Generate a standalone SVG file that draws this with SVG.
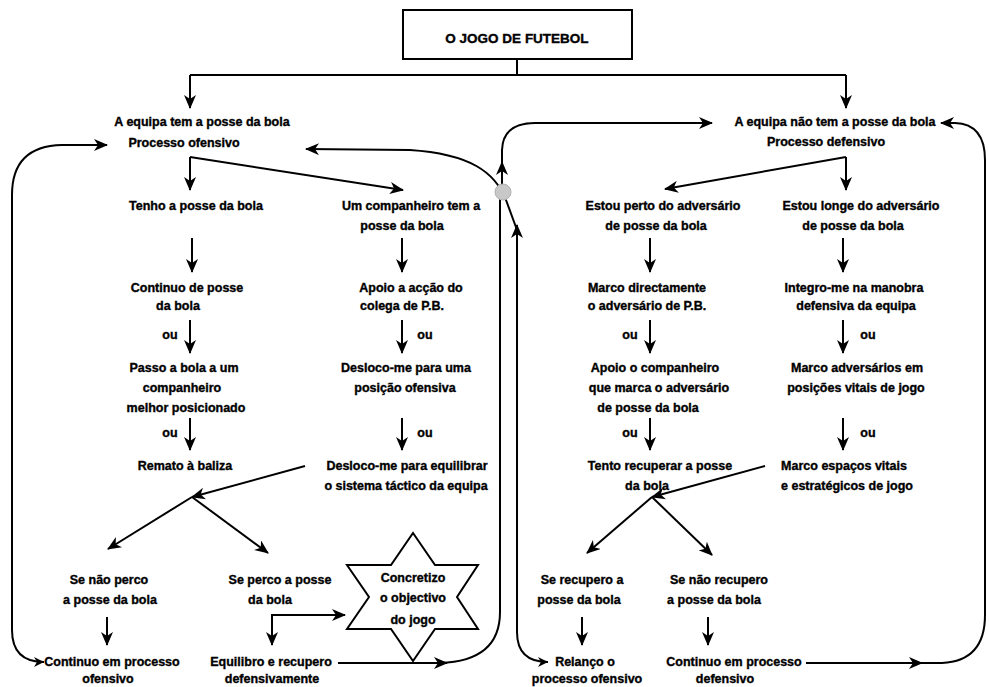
<svg xmlns="http://www.w3.org/2000/svg" width="989" height="687" viewBox="0 0 989 687">
<style>
text{font-family:"Liberation Sans",Arial,sans-serif;font-weight:bold;font-size:12.5px;fill:#000;stroke:#000;stroke-width:0.35;text-anchor:middle}
.ln{stroke:#000;stroke-width:2;fill:none}
.a{marker-end:url(#ah)}
</style>
<defs>
<marker id="ah" viewBox="0 0 14 12" refX="13" refY="6" markerWidth="14" markerHeight="12" orient="auto" markerUnits="userSpaceOnUse">
<path d="M0,0 L14,6 L0,12 L4,6 z" fill="#000"/>
</marker>
<marker id="tl" viewBox="0 0 10 10" refX="0" refY="5" markerWidth="10" markerHeight="10" orient="auto" markerUnits="userSpaceOnUse">
<path d="M10,0 L0,5 L10,10 L7,5 z" fill="#000"/>
</marker>
</defs>
<rect width="989" height="687" fill="#fff"/>

<g id="title">
<rect x="403" y="10" width="229" height="49" fill="#fff" stroke="#000" stroke-width="2"/>
<text x="517" y="43" style="font-size:13.5px">O JOGO DE FUTEBOL</text>
</g>

<g id="connectors">
<path class="ln" d="M517,59 V75 M190,75 H846"/>
<path class="ln a" d="M190,75 V108"/>
<path class="ln a" d="M846,75 V108"/>
<path class="ln a" d="M190,157 V190"/>
<path class="ln a" d="M190,157 L403,190"/>
<path class="ln a" d="M192,238 V272"/>
<path class="ln a" d="M190,320 V353"/>
<path class="ln a" d="M190,418 V450"/>
<path class="ln a" d="M402,238 V272"/>
<path class="ln a" d="M402,320 V353"/>
<path class="ln a" d="M402,418 V450"/>
<path class="ln a" d="M305,466 L192,497"/>
<path class="ln a" d="M192,497 L108,549"/>
<path class="ln a" d="M192,497 L268,553"/>
<path class="ln a" d="M107,617 V645"/>
<path class="ln a" d="M272,617 V645"/>
<path class="ln a" d="M272,640 V615 H345"/>
<path class="ln a" d="M846,157 V190"/>
<path class="ln a" d="M846,157 L665,189"/>
<path class="ln a" d="M650,238 V272"/>
<path class="ln a" d="M650,320 V353"/>
<path class="ln a" d="M650,418 V450"/>
<path class="ln a" d="M843,238 V272"/>
<path class="ln a" d="M843,320 V353"/>
<path class="ln a" d="M843,418 V450"/>
<path class="ln a" d="M765,466 L652,497"/>
<path class="ln a" d="M652,497 L587,553"/>
<path class="ln a" d="M652,497 L712,555"/>
<path class="ln a" d="M582,617 V645"/>
<path class="ln a" d="M708,617 V645"/>
<path class="ln a" d="M44,662 Q12,662 12,630 V195 Q12,146 62,145 H107" marker-start="url(#tl)"/>
<path class="ln a" d="M338,663 H447"/>
<path class="ln" d="M440,663 Q500,661 500,612 V200 L502,185"/>
<path class="ln a" d="M502,185 V162"/>
<path class="ln a" d="M502,165 V150 Q503,123 535,123 H712"/>
<path class="ln a" d="M548,662 Q517,662 517,632 V225" marker-start="url(#tl)"/>
<path class="ln a" d="M517,230 L506,200 C495,172 470,154 410,150 L306,149"/>
<path class="ln a" d="M806,663 H922"/>
<path class="ln a" d="M915,663 H942 Q985,661 985,615 V160 Q985,124 955,123 L941,123"/>
<circle cx="503" cy="192" r="8" fill="#c8c8c8" stroke="#b0b0b0" stroke-width="1"/>
</g>

<g id="n-ofensivo">
<text x="202" y="126">A equipa tem a posse da bola</text>
<text x="184" y="147">Processo ofensivo</text>
</g>
<g id="n-defensivo">
<text x="835" y="126">A equipa não tem a posse da bola</text>
<text x="826" y="146">Processo defensivo</text>
</g>

<g id="n-tenho"><text x="196" y="210">Tenho a posse da bola</text></g>
<g id="n-continuo-posse"><text x="187" y="292">Continuo de posse</text><text x="178" y="310">da bola</text></g>
<g id="ou1"><text x="170" y="339">ou</text></g>
<g id="n-passo"><text x="184" y="372">Passo a bola a um</text><text x="182" y="392">companheiro</text><text x="186" y="412">melhor posicionado</text></g>
<g id="ou2"><text x="170" y="437">ou</text></g>
<g id="n-remato"><text x="185" y="470">Remato à baliza</text></g>

<g id="n-companheiro"><text x="411" y="210">Um companheiro tem a</text><text x="402" y="230">posse da bola</text></g>
<g id="n-apoio"><text x="411" y="292">Apoio a acção do</text><text x="402" y="310">colega de P.B.</text></g>
<g id="ou3"><text x="425" y="339">ou</text></g>
<g id="n-desloco1"><text x="406" y="372">Desloco-me para uma</text><text x="405" y="392">posição ofensiva</text></g>
<g id="ou4"><text x="425" y="437">ou</text></g>
<g id="n-desloco2"><text x="407" y="470">Desloco-me para equilibrar</text><text x="406" y="490">o sistema táctico da equipa</text></g>

<g id="n-perto"><text x="663" y="210">Estou perto do adversário</text><text x="656" y="230">de posse da bola</text></g>
<g id="n-marco-dir"><text x="647" y="292">Marco directamente</text><text x="647" y="310">o adversário de P.B.</text></g>
<g id="ou5"><text x="630" y="339">ou</text></g>
<g id="n-apoio-comp"><text x="655" y="372">Apoio o companheiro</text><text x="659" y="392">que marca o adversário</text><text x="648" y="412">de posse da bola</text></g>
<g id="ou6"><text x="630" y="437">ou</text></g>
<g id="n-tento"><text x="660" y="470">Tento recuperar a posse</text><text x="647" y="490">da bola</text></g>

<g id="n-longe"><text x="861" y="210">Estou longe do adversário</text><text x="853" y="230">de posse da bola</text></g>
<g id="n-integro"><text x="854" y="292">Integro-me na manobra</text><text x="856" y="310">defensiva da equipa</text></g>
<g id="ou7"><text x="868" y="339">ou</text></g>
<g id="n-marco-adv"><text x="857" y="372">Marco adversários em</text><text x="856" y="392">posições vitais de jogo</text></g>
<g id="ou8"><text x="868" y="437">ou</text></g>
<g id="n-marco-esp"><text x="844" y="470">Marco espaços vitais</text><text x="847" y="490">e estratégicos de jogo</text></g>

<g id="n-nao-perco"><text x="109" y="584">Se não perco</text><text x="110" y="604">a posse da bola</text></g>
<g id="n-cont-of"><text x="112" y="666">Continuo em processo</text><text x="108" y="683">ofensivo</text></g>
<g id="n-perco"><text x="280" y="584">Se perco a posse</text><text x="270" y="604">da bola</text></g>
<g id="n-equilibro"><text x="271" y="666">Equilibro e recupero</text><text x="272" y="683">defensivamente</text></g>
<g id="n-star">
<path d="M413,533 L435,565 L478,565 L457,597 L478,629 L435,629 L413,661 L391,629 L347,629 L369,597 L347,565 L391,565 Z" fill="#fff" stroke="#000" stroke-width="2"/>
<text x="413" y="582">Concretizo</text><text x="413" y="602">o objectivo</text><text x="413" y="624">do jogo</text>
</g>

<g id="n-recupero"><text x="582" y="584">Se recupero a</text><text x="579" y="604">posse da bola</text></g>
<g id="n-relanco"><text x="585" y="666">Relanço o</text><text x="587" y="683">processo ofensivo</text></g>
<g id="n-nao-recupero"><text x="719" y="584">Se não recupero</text><text x="714" y="604">a posse da bola</text></g>
<g id="n-cont-def"><text x="734" y="666">Continuo em processo</text><text x="725" y="683">defensivo</text></g>
</svg>
